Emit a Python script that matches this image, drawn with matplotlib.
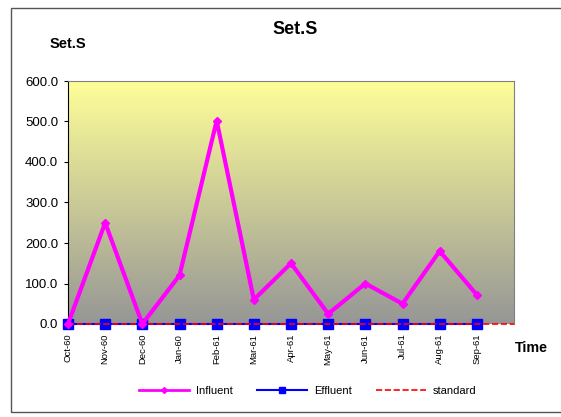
import numpy as np
import matplotlib.pyplot as plt
from matplotlib.patches import Rectangle
from matplotlib.colors import LinearSegmentedColormap
from matplotlib.lines import Line2D

plt.rcParams['font.family'] = ['Liberation Sans', 'DejaVu Sans']

months = ['Oct-60', 'Nov-60', 'Dec-60', 'Jan-60', 'Feb-61', 'Mar-61',
          'Apr-61', 'May-61', 'Jun-61', 'Jul-61', 'Aug-61', 'Sep-61']
influent = [0, 250, 0, 120, 502, 60, 150, 25, 100, 50, 180, 72]
effluent = [0, 0, 0, 0, 0, 0, 0, 0, 0, 0, 0, 0]
standard = [0, 0]

fig = plt.figure(figsize=(5.61, 4.17), dpi=100)
ax = fig.add_axes([68/561, 1-324/417, (514-68)/561, (324-81)/417])

# outer frame
fig.patches.append(Rectangle((11/561, 1-412/417), 1.2, (412-8)/417,
                             transform=fig.transFigure, fill=False,
                             edgecolor='#555555', lw=1.0))

# gradient background
cmap = LinearSegmentedColormap.from_list('bg', ['#969696', '#ffff99'])
grad = np.linspace(0, 1, 256).reshape(-1, 1)
ax.imshow(grad, cmap=cmap, origin='lower', aspect='auto',
          extent=[0, 12, 0, 600], zorder=0)

x = np.arange(len(months))
ax.plot(x, effluent, color='#0000ff', lw=1.5, marker='s', ms=7.5, zorder=3,
        clip_on=False)
ax.plot([0, 12], standard, color='red', ls='--', lw=1.2, zorder=3.5, clip_on=False)
ax.plot(x, influent, color='#ff00ff', lw=3, marker='D', ms=4, zorder=4,
        clip_on=False)

ax.set_xlim(0, 12)
ax.set_ylim(0, 600)
ax.set_yticks(np.arange(0, 601, 100))
ax.set_yticklabels(['%.1f' % v for v in np.arange(0, 601, 100)], fontsize=9.5)
ax.set_xticks(x)
ax.set_xticklabels(months, rotation=90, fontsize=6.8)
ax.tick_params(axis='x', length=0, pad=7)
ax.tick_params(axis='y', length=3, pad=4)
for s in ['top', 'right']:
    ax.spines[s].set_color('#808080')
ax.spines['left'].set_color('black')
ax.spines['bottom'].set_visible(False)

fig.text(295/561, 1-29/417, 'Set.S', ha='center', va='center',
         fontsize=13, fontweight='bold')
fig.text(68/561, 1-44/417, 'Set.S', ha='center', va='center',
         fontsize=10.5, fontweight='bold')
fig.text(531/561, 1-348/417, 'Time', ha='center', va='center',
         fontsize=10.3, fontweight='bold')

handles = [Line2D([], [], color='#ff00ff', lw=2, marker='D', ms=3),
           Line2D([], [], color='#0000ff', lw=1.5, marker='s', ms=5),
           Line2D([], [], color='red', ls='--', lw=1.2)]
fig.legend(handles, ['Influent', 'Effluent', 'standard'], loc='center',
           bbox_to_anchor=(308/561, 1-391/417), ncol=3, frameon=False,
           fontsize=8, handlelength=4.5, columnspacing=2.2, handletextpad=0.6)

fig.savefig('out.png', dpi=100)
